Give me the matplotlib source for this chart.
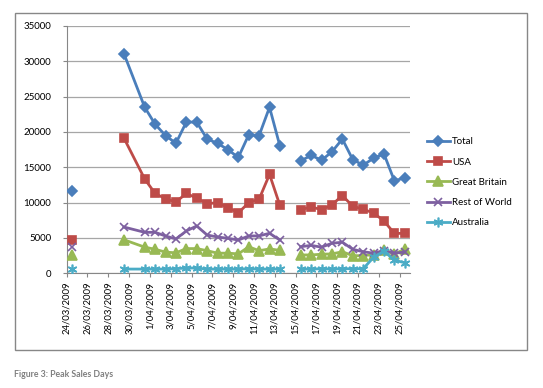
import numpy as np
import matplotlib
matplotlib.use("Agg")
import matplotlib.pyplot as plt
from matplotlib.patches import Rectangle
from datetime import datetime, timedelta

nan = np.nan

# rows from the sheet (30/03 has no row, blank cells give the gaps)
dates = ["24/03/2009", "25/03/2009", "26/03/2009", "27/03/2009", "28/03/2009",
         "29/03/2009", "31/03/2009", "1/04/2009", "2/04/2009", "3/04/2009",
         "4/04/2009", "5/04/2009", "6/04/2009", "7/04/2009", "8/04/2009",
         "9/04/2009", "10/04/2009", "11/04/2009", "12/04/2009", "13/04/2009",
         "14/04/2009", "15/04/2009", "16/04/2009", "17/04/2009", "18/04/2009",
         "19/04/2009", "20/04/2009", "21/04/2009", "22/04/2009", "23/04/2009",
         "24/04/2009", "25/04/2009"]

total = [11700, nan, nan, nan, nan, 31100, 23500, 21100, 19500, 18400,
         21400, 21400, 19000, 18400, 17500, 16400, 19600, 19500, 23500, 18000,
         nan, 15900, 16700, 16000, 17200, 19000, 16100, 15300, 16300, 16900,
         13100, 13500]
usa = [4750, nan, nan, nan, nan, 19150, 13350, 11300, 10550, 10100,
       11300, 10650, 9850, 10000, 9300, 8550, 10000, 10500, 14000, 9600,
       nan, 9000, 9400, 9000, 9700, 11000, 9500, 9050, 8550, 7400,
       5650, 5650]
great_britain = [2650, nan, nan, nan, nan, 4750, 3700, 3400, 3000, 2900,
                 3500, 3500, 3200, 2850, 2850, 2750, 3750, 3200, 3450, 3250,
                 nan, 2600, 2600, 2700, 2750, 3050, 2500, 2500, 2650, 3300,
                 2750, 3400]
rest_of_world = [3700, nan, nan, nan, nan, 6550, 5800, 5800, 5280, 4860,
                 5990, 6700, 5420, 5140, 4950, 4710, 5280, 5300, 5660, 4710,
                 nan, 3770, 3950, 3700, 4250, 4400, 3400, 3050, 2850, 3200,
                 2850, 3000]
australia = [550, nan, nan, nan, nan, 600, 600, 600, 600, 650,
             750, 750, 600, 600, 600, 600, 650, 600, 600, 600,
             nan, 600, 600, 650, 600, 650, 650, 650, 2250, 3150,
             1850, 1500]

plt.rcParams['font.family'] = ['Lato', 'DejaVu Sans']

start = datetime(2009, 3, 24)
days = [(datetime.strptime(d, "%d/%m/%Y") - start).days for d in dates]
x = np.array(days) + 0.5

fig = plt.figure(figsize=(5.43, 3.88), dpi=100)
ax = fig.add_axes([0.1228, 0.2956, 0.755 - 0.1228, 0.933 - 0.2956])

series = [
    ("Total", total, "#4A7EBB", "D", 5.5),
    ("USA", usa, "#BE4B48", "s", 6),
    ("Great Britain", great_britain, "#98B954", "^", 6.5),
    ("Rest of World", rest_of_world, "#7D60A0", "x", 6),
    ("Australia", australia, "#4BACC6", (6, 2, 0), 7),
]
for name, vals, col, mk, ms in series:
    ax.plot(x, vals, color=col, lw=2, marker=mk, markersize=ms,
            markeredgecolor=col, markerfacecolor=col, markeredgewidth=1.2,
            label=name, zorder=3)

ax.set_xlim(0, 33)
ax.set_ylim(0, 35000)
ax.set_yticks(np.arange(0, 35001, 5000))
ax.set_yticklabels([str(v) for v in range(0, 35001, 5000)], fontsize=7)

tick_days = np.arange(0, 33, 2)
tick_labels = []
for t in tick_days:
    d = start + timedelta(days=int(t))
    tick_labels.append("%d/%02d/%d" % (d.day, d.month, d.year))
ax.set_xticks(tick_days)
ax.set_xticklabels(tick_labels, rotation=90, fontsize=6.8)

ax.grid(axis="y", color="#A6A6A6", lw=0.9)
ax.set_axisbelow(True)
for s in ["top", "right"]:
    ax.spines[s].set_visible(False)
for s in ["left", "bottom"]:
    ax.spines[s].set_color("#878787")
ax.tick_params(axis="both", color="#878787", length=3, width=0.8, pad=3)
ax.tick_params(axis="y", pad=8)

fig.legend(loc="center left", bbox_to_anchor=(0.786, 0.530), frameon=False,
           borderpad=0, borderaxespad=0, handlelength=2.4, handletextpad=0.2,
           labelspacing=1.15, fontsize=7)

# chart border and caption
fig.patches.append(Rectangle((0.0276, 0.098), 0.943, 0.8685, transform=fig.transFigure,
                             fill=False, edgecolor="#878787", lw=1))
fig.text(0.025, 0.029, "Figure 3: Peak Sales Days", fontsize=6.3, color="#808080",
         fontweight="bold")

fig.savefig("out.png", dpi=100)
